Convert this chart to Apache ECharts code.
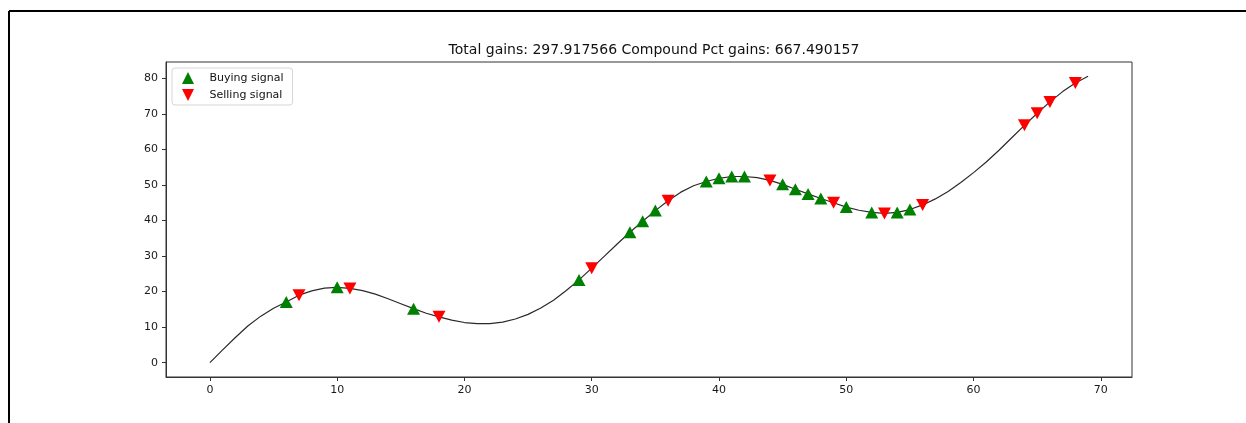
<!DOCTYPE html>
<html>
<head>
<meta charset="utf-8">
<script src="https://cdn.jsdelivr.net/npm/echarts@6/dist/echarts.min.js"></script>
<style>html,body{margin:0;padding:0;background:#fff}#c{width:1246px;height:423px}</style>
</head>
<body>
<div id="c"></div>
<script>
const days = Array.from({length: 70}, (_, i) => i);
const close = [0, 3.6, 7.1, 10.4, 13.1, 15.3, 17.1, 19.0, 20.2, 21.0,
  21.2, 20.9, 20.3, 19.3, 18.0, 16.6, 15.2, 13.9, 12.9, 12.0,
  11.3, 11.0, 11.0, 11.4, 12.3, 13.6, 15.4, 17.6, 20.3, 23.3,
  26.6, 30.0, 33.4, 36.7, 39.8, 42.8, 45.6, 48.0, 49.8, 51.0,
  51.9, 52.4, 52.4, 52.1, 51.3, 50.2, 48.8, 47.5, 46.2, 45.0,
  43.8, 42.9, 42.3, 42.0, 42.3, 43.1, 44.4, 46.1, 48.2, 50.7,
  53.5, 56.5, 59.8, 63.3, 66.8, 70.2, 73.4, 76.3, 78.7, 80.6];
const buyDays = [6, 10, 16, 29, 33, 34, 35, 39, 40, 41, 42, 45, 46, 47, 48, 50, 52, 54, 55];
const sellDays = [7, 11, 18, 30, 36, 44, 49, 53, 56, 64, 65, 66, 68];
const xTicks = [0, 10, 20, 30, 40, 50, 60, 70];
const yTicks = [0, 10, 20, 30, 40, 50, 60, 70, 80];
const titleText = 'Total gains: 297.917566 Compound Pct gains: 667.490157';

const font = 'DejaVu Sans';
const chart = echarts.init(document.getElementById('c'));
const axisCommon = {
  type: 'value',
  splitLine: {show: false},
  axisLine: {show: true, onZero: false, lineStyle: {color: '#333', width: 1}},
  axisTick: {show: true, length: 4, lineStyle: {color: '#333', width: 1}},
  axisLabel: {color: '#1a1a1a', fontSize: 11, fontFamily: font, margin: 8}
};
chart.setOption({
  animation: false,
  backgroundColor: '#fff',
  title: {
    text: titleText, left: 649, top: 38, textAlign: 'center',
    textStyle: {fontFamily: font, fontSize: 14, fontWeight: 'normal', color: '#111'}
  },
  grid: {left: 166, right: 114, top: 62, bottom: 46, show: true, borderColor: '#333', borderWidth: 1, backgroundColor: 'transparent'},
  legend: {
    orient: 'vertical', left: 172, top: 68,
    data: ['Buying signal', 'Selling signal'],
    itemWidth: 13, itemHeight: 12, itemGap: 5,
    padding: [4, 9, 4, 10],
    borderColor: '#d5d5d5', borderWidth: 1, borderRadius: 3,
    textStyle: {fontFamily: font, fontSize: 11, color: '#111', padding: [0, 0, 0, 10]}
  },
  xAxis: Object.assign({}, axisCommon, {
    min: -3.45, max: 72.45,
    axisTick: Object.assign({}, axisCommon.axisTick, {customValues: xTicks}),
    axisLabel: Object.assign({}, axisCommon.axisLabel, {customValues: xTicks})
  }),
  yAxis: Object.assign({}, axisCommon, {
    min: -4.03, max: 84.63,
    axisTick: Object.assign({}, axisCommon.axisTick, {customValues: yTicks}),
    axisLabel: Object.assign({}, axisCommon.axisLabel, {customValues: yTicks})
  }),
  series: [
    {
      name: 'close', type: 'line', showSymbol: false, silent: true,
      data: days.map(d => [d, close[d]]),
      lineStyle: {color: '#2a2a2a', width: 1.2}, z: 1
    },
    {
      name: 'Buying signal', type: 'scatter',
      symbol: 'path://M5,0 L10,10 L0,10 Z', symbolSize: [13, 12],
      itemStyle: {color: '#008000', opacity: 1},
      data: buyDays.map(d => [d, close[d]]), z: 3
    },
    {
      name: 'Selling signal', type: 'scatter',
      symbol: 'path://M0,0 L10,0 L5,10 Z', symbolSize: [13, 12],
      itemStyle: {color: '#ff0000', opacity: 1},
      data: sellDays.map(d => [d, close[d]]), z: 3
    }
  ],
  graphic: [
    {type: 'line', shape: {x1: 9, y1: 11, x2: 1246, y2: 11}, style: {stroke: '#000', lineWidth: 2}},
    {type: 'line', shape: {x1: 9, y1: 11, x2: 9, y2: 423}, style: {stroke: '#000', lineWidth: 2}}
  ]
});
</script>
</body>
</html>
